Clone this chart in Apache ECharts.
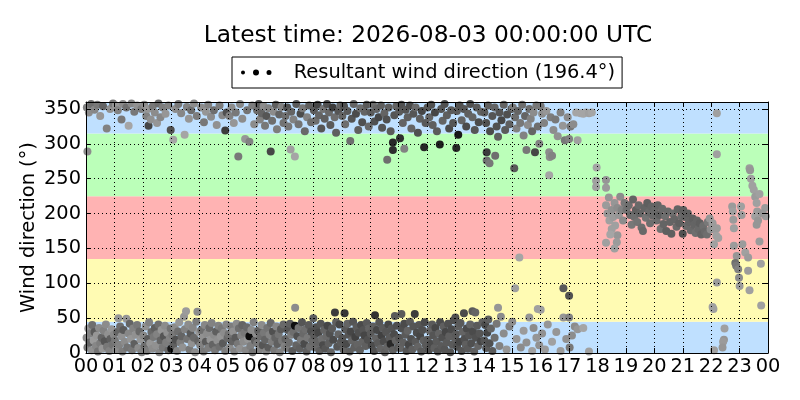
<!DOCTYPE html>
<html>
<head>
<meta charset="utf-8">
<script src="https://cdn.jsdelivr.net/npm/echarts@6/dist/echarts.min.js"></script>
<style>html,body{margin:0;padding:0;background:#fff}#c{width:800px;height:400px}</style>
</head>
<body>
<div id="c"></div>
<script>
// ---- data: [hour of day, wind direction (deg), gray shade 0-255] ----
const titleText = 'Latest time: 2026-08-03 00:00:00 UTC';
const seriesName = 'Resultant wind direction (196.4°)';
const hourTicks = ['00','01','02','03','04','05','06','07','08','09','10','11','12','13','14','15','16','17','18','19','20','21','22','23','00'];
const bandLimits = [[0,45],[45,135],[135,225],[225,315],[315,360]];
const bandColors = ['#bfe0ff','#fffbb3','#ffb3b3','#bbffb9','#bfe0ff'];

const obs00_03 = [
[0.02,22,140],[0.05,8,120],[0.08,35,150],[0.12,15,100],[0.15,28,130],[0.2,4,145],[0.22,40,110],[0.27,18,155],[0.3,30,90],[0.35,10,135],[0.38,25,150],[0.42,2,115],[0.46,36,140],[0.5,14,125],[0.55,22,100],[0.58,6,150],[0.62,32,130],[0.66,17,85],[0.7,41,140],[0.74,9,120],[0.78,27,145],[0.82,3,130],[0.86,20,95],[0.9,34,150],[0.94,12,115],[0.98,26,135],
[0.03,352,130],[0.1,345,140],[0.05,289,140],[0.18,357,110],[0.3,349,135],[0.4,356,120],[0.5,340,150],[0.6,354,100],[0.73,322,130],[0.85,350,145],[0.95,358,120],
[1.02,18,120],[1.06,5,140],[1.1,30,100],[1.14,50,150],[1.17,12,130],[1.2,38,110],[1.25,24,145],[1.28,2,125],[1.32,33,90],[1.36,16,140],[1.42,49,150],[1.45,8,115],[1.5,28,135],[1.54,42,100],[1.58,20,150],[1.62,4,120],[1.66,35,130],[1.7,13,95],[1.75,26,145],[1.8,40,120],[1.84,7,140],[1.88,31,105],[1.92,19,150],[1.96,1,130],
[1.05,355,150],[1.12,348,130],[1.25,335,120],[1.3,357,140],[1.42,352,110],[1.5,326,165],[1.6,358,135],[1.7,346,120],[1.8,355,145],[1.95,350,125],
[2.02,25,135],[2.06,10,110],[2.1,38,145],[2.14,3,125],[2.18,20,90],[2.22,44,130],[2.26,14,150],[2.3,30,105],[2.34,6,140],[2.38,23,120],[2.42,36,95],[2.46,11,145],[2.5,27,130],[2.55,41,110],[2.58,1,135],[2.62,18,100],[2.66,33,150],[2.7,8,120],[2.74,24,85],[2.78,39,140],[2.82,15,125],[2.86,29,145],[2.9,4,105],[2.95,21,130],[2.98,35,115],
[2.05,356,140],[2.12,340,130],[2.18,350,150],[2.2,326,70],[2.28,335,145],[2.35,354,120],[2.42,345,140],[2.5,330,150],[2.55,358,110],[2.62,338,135],[2.7,352,125],[2.8,343,150],[2.9,355,130],[2.98,320,80]
];

const obs03_06 = [
[3.0,6,20],[3.04,26,120],[3.08,12,95],[3.12,37,140],[3.16,19,80],[3.2,3,130],[3.24,31,110],[3.28,44,150],[3.32,15,125],[3.36,24,100],[3.4,8,145],[3.45,52,150],[3.48,34,130],[3.52,60,155],[3.56,20,115],[3.6,41,140],[3.64,5,120],[3.68,28,90],[3.72,14,145],[3.76,36,135],[3.8,22,105],[3.84,1,140],[3.88,45,125],[3.92,59,140],[3.95,17,100],[3.98,30,150],
[3.07,306,165],[3.15,350,140],[3.25,357,120],[3.35,344,135],[3.47,313,165],[3.55,353,130],[3.62,336,150],[3.7,348,110],[3.8,358,140],[3.9,340,125],
[4.02,11,130],[4.06,33,110],[4.1,22,145],[4.14,2,120],[4.18,40,135],[4.22,16,90],[4.26,28,140],[4.3,7,125],[4.34,36,105],[4.38,19,150],[4.42,43,130],[4.46,12,100],[4.5,26,140],[4.54,4,120],[4.58,31,95],[4.62,18,145],[4.66,39,130],[4.7,9,110],[4.74,24,150],[4.78,35,120],[4.82,14,90],[4.86,29,140],[4.9,3,125],[4.94,41,135],[4.98,21,105],
[4.05,352,140],[4.15,331,120],[4.22,346,150],[4.3,356,130],[4.4,339,140],[4.5,348,110],[4.6,327,145],[4.7,355,125],[4.8,341,135],[4.9,319,60],[4.95,345,80],
[5.02,27,115],[5.06,8,140],[5.1,38,125],[5.14,17,100],[5.18,31,145],[5.22,2,130],[5.26,22,90],[5.3,42,140],[5.34,13,120],[5.38,35,110],[5.42,6,145],[5.46,25,130],[5.5,40,100],[5.54,16,140],[5.58,29,120],[5.62,4,135],[5.66,37,105],[5.7,20,150],[5.75,24,10],[5.78,10,125],[5.82,33,140],[5.86,1,115],[5.9,44,130],[5.94,18,95],[5.98,28,140],
[5.05,340,130],[5.12,352,140],[5.2,330,150],[5.27,345,120],[5.36,282,120],[5.42,357,135],[5.5,336,140],[5.6,307,150],[5.67,348,115],[5.75,303,130],[5.85,355,125],[5.92,328,140]
];

const obs06_09 = [
[6.02,348,110],[6.08,357,90],[6.12,335,130],[6.18,344,100],[6.25,354,140],[6.3,326,120],[6.35,340,85],[6.42,351,130],[6.5,289,70],[6.55,333,110],[6.6,346,140],[6.68,356,95],[6.72,321,125],[6.8,342,100],[6.88,353,130],[6.95,330,115],
[6.02,14,120],[6.06,32,95],[6.1,5,130],[6.14,24,110],[6.18,40,140],[6.22,11,85],[6.26,29,120],[6.3,19,100],[6.34,2,135],[6.38,36,115],[6.42,8,90],[6.46,26,130],[6.5,43,105],[6.54,16,125],[6.58,31,80],[6.62,4,120],[6.66,22,100],[6.7,38,135],[6.74,13,95],[6.78,27,115],[6.82,1,130],[6.86,34,90],[6.9,18,120],[6.95,41,105],[6.98,9,130],
[7.02,340,110],[7.08,352,80],[7.12,325,120],[7.2,292,160],[7.22,346,100],[7.3,335,130],[7.35,282,165],[7.4,357,90],[7.48,328,115],[7.55,343,75],[7.62,351,120],[7.7,318,105],[7.78,338,130],[7.85,355,95],[7.92,331,110],
[7.02,20,100],[7.06,7,120],[7.1,33,85],[7.14,15,110],[7.18,42,95],[7.22,26,125],[7.26,3,90],[7.3,30,110],[7.35,39,15],[7.36,65,140],[7.4,11,100],[7.44,24,80],[7.48,36,115],[7.52,6,95],[7.56,19,120],[7.6,44,85],[7.64,28,105],[7.68,13,75],[7.72,34,110],[7.76,2,95],[7.8,22,120],[7.84,40,90],[7.88,9,110],[7.92,31,80],[7.96,17,105],
[8.02,348,90],[8.08,333,110],[8.15,356,70],[8.2,341,100],[8.28,322,85],[8.35,350,115],[8.4,336,95],[8.48,357,80],[8.55,345,105],[8.6,327,90],[8.68,352,60],[8.75,338,110],[8.8,316,95],[8.88,347,85],[8.95,355,100],
[8.0,50,95],[8.03,25,90],[8.07,8,105],[8.1,37,80],[8.14,16,100],[8.18,29,70],[8.22,3,95],[8.26,42,85],[8.3,20,110],[8.34,11,75],[8.38,33,100],[8.42,6,85],[8.46,24,105],[8.5,39,70],[8.54,14,95],[8.58,28,80],[8.62,1,100],[8.66,35,90],[8.7,19,75],[8.76,58,60],[8.8,44,95],[8.84,9,85],[8.88,27,100],[8.92,41,70],[8.96,15,90]
];

const obs09_12 = [
[9.02,340,100],[9.08,354,80],[9.12,328,110],[9.2,347,90],[9.3,304,110],[9.35,336,85],[9.42,357,100],[9.5,343,75],[9.58,320,95],[9.65,351,110],[9.72,331,80],[9.8,346,100],[9.88,356,90],[9.95,325,105],
[9.02,21,85],[9.06,5,100],[9.1,57,55],[9.12,34,90],[9.16,13,75],[9.2,42,100],[9.24,26,85],[9.28,2,95],[9.32,31,70],[9.36,18,100],[9.4,45,85],[9.44,8,95],[9.48,23,65],[9.52,37,90],[9.56,12,100],[9.6,29,80],[9.64,4,95],[9.68,40,75],[9.72,16,100],[9.76,33,85],[9.8,25,70],[9.84,10,95],[9.88,43,90],[9.92,19,80],[9.96,35,100],
[10.02,345,90],[10.1,356,110],[10.15,332,80],[10.22,350,100],[10.3,338,70],[10.38,355,95],[10.42,323,85],[10.5,344,100],[10.58,335,80],[10.6,277,110],[10.65,352,95],[10.72,318,90],[10.8,302,40],[10.8,291,45],[10.85,341,85],[10.92,354,100],
[10.02,28,90],[10.06,11,75],[10.1,38,95],[10.14,3,80],[10.17,54,50],[10.2,21,100],[10.24,33,70],[10.28,14,90],[10.32,44,85],[10.36,6,100],[10.4,25,65],[10.44,36,90],[10.48,17,75],[10.52,1,95],[10.56,30,85],[10.6,9,100],[10.64,41,70],[10.68,22,90],[10.72,13,40],[10.76,35,85],[10.8,4,95],[10.84,27,75],[10.87,53,90],[10.9,18,100],[10.94,39,80],[10.98,8,90],
[11.02,346,90],[11.05,308,45],[11.1,356,80],[11.15,330,100],[11.2,293,130],[11.25,349,85],[11.32,338,95],[11.4,355,75],[11.45,322,100],[11.52,343,85],[11.6,352,105],[11.68,316,80],[11.75,336,95],[11.82,347,70],[11.9,295,40],[11.95,330,90],
[11.02,22,85],[11.06,7,100],[11.1,56,90],[11.12,35,80],[11.16,15,95],[11.2,42,75],[11.24,26,90],[11.28,3,85],[11.32,32,100],[11.36,12,70],[11.4,45,90],[11.44,20,80],[11.48,5,95],[11.52,38,85],[11.57,56,60],[11.6,16,90],[11.64,29,75],[11.68,9,100],[11.72,40,85],[11.76,24,70],[11.8,2,90],[11.84,33,80],[11.88,18,95],[11.92,44,75],[11.96,11,90]
];

const obs12_15 = [
[12.02,352,85],[12.08,338,100],[12.15,356,80],[12.2,327,95],[12.28,345,70],[12.35,318,90],[12.45,299,30],[12.5,350,85],[12.55,333,100],[12.62,357,80],[12.7,341,95],[12.78,322,75],[12.85,348,90],[12.92,330,85],
[12.02,19,90],[12.06,4,80],[12.1,32,100],[12.14,13,75],[12.18,41,90],[12.22,25,85],[12.26,7,95],[12.3,36,70],[12.34,17,90],[12.38,2,85],[12.42,28,100],[12.46,44,75],[12.5,10,90],[12.54,22,80],[12.58,38,95],[12.62,5,85],[12.66,30,70],[12.7,15,90],[12.74,42,80],[12.78,24,95],[12.82,1,85],[12.86,34,75],[12.9,12,90],[12.94,47,80],[12.98,21,95],
[13.03,294,40],[13.1,313,25],[13.05,347,90],[13.15,355,80],[13.22,334,100],[13.3,350,85],[13.38,325,75],[13.45,343,95],[13.52,357,80],[13.6,338,100],[13.68,320,85],[13.75,352,90],[13.82,331,75],[13.9,346,100],
[13.0,51,80],[13.02,27,90],[13.06,9,80],[13.1,38,95],[13.14,16,70],[13.18,43,90],[13.22,3,85],[13.26,30,100],[13.3,57,75],[13.32,20,80],[13.36,12,95],[13.4,35,75],[13.44,6,90],[13.48,25,85],[13.52,41,100],[13.56,14,80],[13.6,60,90],[13.62,31,75],[13.66,2,95],[13.7,58,100],[13.72,22,80],[13.76,39,90],[13.8,10,100],[13.85,28,85],[13.9,17,70],[13.95,44,95],
[14.02,345,90],[14.08,330,80],[14.1,288,60],[14.1,276,110],[14.15,355,95],[14.2,272,120],[14.22,318,75],[14.3,340,85],[14.38,352,100],[14.4,283,110],[14.45,325,80],[14.5,310,95],[14.55,345,85],[14.62,334,70],[14.7,356,100],[14.75,320,90],[14.82,342,80],[14.9,328,95],[14.97,350,85],
[14.02,18,85],[14.05,40,75],[14.08,7,90],[14.12,29,70],[14.16,48,95],[14.2,14,80],[14.25,35,100],[14.3,3,90],[14.38,22,110],[14.45,42,120],[14.5,65,150],[14.55,10,130],[14.6,52,140],[14.7,28,140],[14.8,5,150],[14.9,38,130]
];

const obs15_18 = [
[15.02,352,120],[15.07,265,90],[15.1,338,110],[15.15,322,130],[15.2,347,100],[15.28,330,120],[15.35,356,110],[15.4,312,130],[15.45,340,100],[15.5,291,120],[15.55,327,140],[15.6,350,110],[15.65,336,130],[15.7,318,100],[15.75,345,140],[15.8,288,70],[15.85,355,120],[15.9,325,110],[15.95,300,130],
[15.0,45,140],[15.1,93,160],[15.15,20,150],[15.25,137,165],[15.3,8,140],[15.4,32,155],[15.5,15,145],[15.6,51,150],[15.7,3,160],[15.75,36,140],[15.85,22,150],[15.9,63,160],[15.95,11,145],
[16.0,354,120],[16.05,343,140],[16.12,330,130],[16.2,347,150],[16.3,288,140],[16.32,281,140],[16.3,255,165],[16.35,338,125],[16.4,283,130],[16.45,320,140],[16.52,335,120],[16.6,311,145],[16.7,345,130],[16.78,326,150],[16.85,305,120],[16.95,338,140],
[16.0,62,160],[16.05,28,145],[16.15,5,155],[16.25,41,150],[16.4,16,160],[16.55,30,150],[16.7,3,155],[16.8,93,90],[16.8,51,150],[16.9,20,145],
[17.0,307,130],[17.05,325,120],[17.15,328,140],[17.25,345,165],[17.3,305,160],[17.4,344,165],[17.5,343,165],[17.6,345,165],[17.7,344,160],[17.8,345,165],
[17.0,82,80],[17.0,51,130],[17.02,8,120],[17.1,25,140],[17.2,38,140],[17.3,34,150],[17.5,36,165],[17.7,2,160],
[17.97,266,165],[17.95,247,160],[17.95,238,160]
];

const obs18_21 = [
[18.3,248,150],[18.3,237,155],
[18.3,212,155],[18.35,200,150],[18.4,223,150],[18.42,190,160],[18.5,205,145],[18.55,195,155],[18.6,215,150],[18.62,183,160],[18.7,208,140],[18.75,198,150],[18.8,224,140],[18.85,205,130],[18.9,190,140],[18.95,215,120],[18.3,158,160],[18.7,169,150],[18.68,159,155],[18.6,150,160],[18.5,178,160],[18.45,170,165],
[19.02,205,115],[19.1,212,110],[19.15,198,105],[19.2,184,120],[19.25,220,100],[19.3,195,110],[19.35,205,95],[19.4,188,115],[19.45,212,105],[19.5,200,100],[19.55,180,110],[19.6,175,105],[19.65,208,100],[19.7,194,115],[19.75,215,95],[19.8,202,105],[19.85,186,110],[19.9,210,100],[19.95,197,105],
[20.02,205,105],[20.08,190,110],[20.12,212,100],[20.18,198,95],[20.22,178,115],[20.28,207,105],[20.32,185,100],[20.38,196,110],[20.42,175,95],[20.48,203,105],[20.55,188,100],[20.6,171,95],[20.65,200,110],[20.7,192,100],[20.78,181,105],[20.82,206,100],[20.88,186,95],[20.95,196,105],[21.0,171,80]
];

const obs21_24 = [
[21.02,205,95],[21.08,195,100],[21.12,182,105],[21.18,200,95],[21.22,188,100],[21.28,176,105],[21.35,193,95],[21.4,184,100],[21.45,172,110],[21.5,190,100],[21.55,178,105],[21.6,186,95],[21.65,170,100],[21.72,182,110],[21.78,174,105],[21.85,170,110],[21.88,188,120],[21.95,193,150],[21.98,177,140],
[22.05,186,155],[22.1,156,160],[22.12,178,155],[22.18,168,160],[22.2,179,155],[22.25,165,160],[22.2,344,160],[22.2,285,160],[22.2,101,155],[22.05,66,160],[22.08,63,160],[22.47,35,160],[22.45,19,150],[22.42,16,155],[22.4,8,150],[22.1,4,160],
[22.74,210,155],[22.76,203,160],[22.78,191,155],[22.8,179,160],[22.8,154,155],[22.9,139,150],[22.85,129,110],[22.88,125,120],[22.95,120,130],[22.98,108,140],[23.0,96,155],[23.05,210,160],[23.07,198,155],[23.1,156,155],[23.2,144,160],[23.3,137,155],[23.3,118,155],[23.35,90,160],[23.76,68,160],[23.75,128,160],
[23.35,265,155],[23.37,262,150],[23.4,250,160],[23.45,240,160],[23.5,234,160],[23.55,224,155],[23.6,215,160],[23.62,203,155],[23.6,184,150],[23.7,160,155],[23.55,196,160],[23.9,208,155],[23.92,196,155],[23.8,200,150],[23.65,190,150],[23.7,228,160]
];

const observations = [].concat(obs00_03, obs03_06, obs06_09, obs09_12, obs12_15, obs15_18, obs18_21, obs21_24);
const bandData = bandLimits.map((b, i) => [0, b[0], b[1], i]);

const FONT = 'DejaVu Sans';
const chart = echarts.init(document.getElementById('c'), null, {renderer: 'canvas'});

const baseX = {
  type: 'value', min: 0, max: 24, interval: 1,
  axisLine: {show: true, onZero: false, lineStyle: {color: '#000', width: 1}},
  axisTick: {show: true, inside: true, length: 5, lineStyle: {color: '#000'}},
  z: 5
};
const baseY = {
  type: 'value', min: 0, max: 360, interval: 50,
  axisLine: {show: true, onZero: false, lineStyle: {color: '#000', width: 1}},
  axisTick: {show: true, inside: true, length: 5, lineStyle: {color: '#000'}},
  z: 5
};

const dotsIcon = 'path://M0,3a2,2 0 1,0 4,0a2,2 0 1,0 -4,0ZM12,3a3,3 0 1,0 6,0a3,3 0 1,0 -6,0ZM25.5,3a2.5,2.5 0 1,0 5,0a2.5,2.5 0 1,0 -5,0Z';

chart.setOption({
  animation: false,
  backgroundColor: '#fff',
  title: {
    text: titleText, left: 423, top: 19, textAlign: 'center',
    textStyle: {fontFamily: FONT, fontSize: 23.3, fontWeight: 'normal', color: '#000'}
  },
  legend: {
    left: 232, top: 57,
    data: [{name: seriesName, icon: dotsIcon, itemStyle: {color: '#000'}}],
    itemWidth: 31, itemHeight: 6,
    padding: [6, 7, 6, 9],
    borderColor: '#000', borderWidth: 1, borderRadius: 0,
    textStyle: {fontFamily: FONT, fontSize: 19.4, color: '#000', padding: [0, 0, 0, 17]}
  },
  grid: {left: 86, right: 32, top: 102, bottom: 47, containLabel: false},
  xAxis: [
    Object.assign({}, baseX, {
      position: 'bottom',
      axisLabel: {show: true, margin: 4, fontFamily: FONT, fontSize: 19.4, color: '#000',
        formatter: v => hourTicks[Math.round(v)]},
      splitLine: {show: true, lineStyle: {color: '#000', width: 1, type: [1, 3]}}
    }),
    Object.assign({}, baseX, {position: 'top', axisLabel: {show: false}, splitLine: {show: false}})
  ],
  yAxis: [
    Object.assign({}, baseY, {
      position: 'left',
      name: 'Wind direction (°)', nameLocation: 'middle', nameGap: 48, nameMoveOverlap: false,
      nameTextStyle: {fontFamily: FONT, fontSize: 19.4, color: '#000'},
      axisLabel: {show: true, margin: 5, fontFamily: FONT, fontSize: 19.4, color: '#000', showMaxLabel: false,
        formatter: v => (v >= 360 ? '' : String(v))},
      splitLine: {show: true, lineStyle: {color: '#000', width: 1, type: [1, 3]}}
    }),
    Object.assign({}, baseY, {position: 'right', axisLabel: {show: false}, splitLine: {show: false}})
  ],
  series: [
    {
      type: 'custom', name: 'bands', z: 1, silent: true,
      xAxisIndex: 0, yAxisIndex: 0,
      data: bandData,
      encode: {x: 0, y: [1, 2]},
      renderItem: function (params, api) {
        const lo = api.value(1), hi = api.value(2);
        const p0 = api.coord([0, hi]);
        const p1 = api.coord([24, lo]);
        return {
          type: 'rect',
          shape: {x: p0[0], y: p0[1], width: p1[0] - p0[0], height: p1[1] - p0[1]},
          style: {fill: bandColors[api.value(3)]}
        };
      }
    },
    {
      type: 'scatter', name: seriesName, z: 2,
      xAxisIndex: 0, yAxisIndex: 0,
      symbol: 'circle', symbolSize: 8,
      clip: true,
      data: observations,
      itemStyle: {
        opacity: 1,
        color: function (p) {
          const g = p.value[2];
          return 'rgb(' + g + ',' + g + ',' + g + ')';
        }
      }
    }
  ]
});
</script>
</body>
</html>
